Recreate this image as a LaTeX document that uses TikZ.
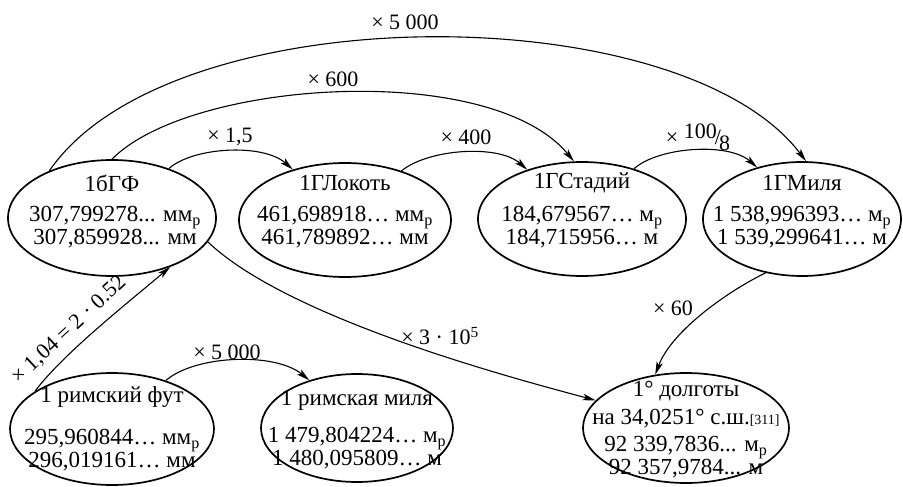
\documentclass[tikz,border=0pt]{standalone}
\usepackage{fontspec}
\setmainfont{Liberation Serif}
\usetikzlibrary{shapes.geometric,arrows.meta}
\begin{document}
\begin{tikzpicture}[x=1pt,y=-1pt,
  ell/.style={draw,ellipse,line width=1.7pt,inner sep=0pt},
  txt/.style={font=\fontsize{23}{23}\selectfont,inner sep=0pt,align=center},
  lbl/.style={font=\fontsize{22}{22}\selectfont,inner sep=0pt},
  arr/.style={line width=1.1pt,-{Stealth[length=13pt,width=6.5pt,inset=3pt]}}]
\useasboundingbox (0,0) rectangle (903,487);
% ellipses
\node[ell,minimum width=208pt,minimum height=116pt] (gf) at (112,218) {};
\node[ell,minimum width=212pt,minimum height=114pt] (lok) at (345,220) {};
\node[ell,minimum width=208pt,minimum height=114pt] (stad) at (582,219) {};
\node[ell,minimum width=198pt,minimum height=114pt] (mil) at (802,219) {};
\node[ell,minimum width=204pt,minimum height=112pt] (rf) at (112,429) {};
\node[ell,minimum width=192pt,minimum height=108pt] (rm) at (357,428) {};
\node[ell,minimum width=206pt,minimum height=110pt] (dol) at (686,428) {};
% texts
\node[txt] (gft) at (112,183) {1бГФ};
\node[txt] (gfn) at (115,227) {307,799278... мм\textsubscript{р}\\307,859928... мм};
\node[txt] (lokt) at (345,183) {1ГЛокоть};
\node[txt] (lokn) at (345,227) {461,698918… мм\textsubscript{р}\\461,789892… мм};
\node[txt] (stadt) at (582,183) {1ГСтадий};
\node[txt] (stadn) at (582,227) {184,679567… м\textsubscript{р}\\184,715956… м};
\node[txt] (milt) at (802,183) {1ГМиля};
\node[txt] (miln) at (802,227) {1 538,996393… м\textsubscript{р}\\1 539,299641… м};
\node[txt] (rft) at (112,397) {1 римский фут};
\node[txt] (rfn) at (112,450) {295,960844… мм\textsubscript{р}\\296,019161… мм};
\node[txt] (rmt) at (357,400) {1 римская миля};
\node[txt] (rmn) at (357,448) {1 479,804224… м\textsubscript{р}\\1 480,095809… м};
\node[txt] (dolt) at (686,391) {1° долготы};
\node[txt] (dolu) at (686,419) {на 34,0251° с.ш.{\fontsize{14}{14}\selectfont[311]}};
\node[txt] (doln) at (686,457) {92 339,7836... м\textsubscript{р}\\92 357,9784... м};
% connectors
\draw[arr] (gf.41) .. controls (193,147) and (263,143) .. (lok.136);
\draw[arr] (lok.41) .. controls (428,149) and (498,144) .. (stad.138);
\draw[arr] (stad.44) .. controls (658,147) and (728,142) .. (mil.131);
\draw[arr] (gf.90) .. controls (190,80) and (490,60) .. (stad.98);
\draw[arr] (gf.143) .. controls (170,-5) and (680,-5) .. (mil.86);
\draw[arr] (gf.-14) .. controls (290,320) and (520,380) .. (dol.163);
\draw[arr] (mil.236) .. controls (730,290) and (672,330) .. (dol.120);
\draw[arr] (rf.154) .. controls (62,355) and (125,305) .. (gf.-40);
\draw[arr] (rf.42) .. controls (195,355) and (275,352) .. (rm.135);
% labels
\node[lbl] (l5000) at (405,22) {× 5 000};
\node[lbl] (l600) at (333,79) {× 600};
\node[lbl] (l15) at (230,137) {× 1,5};
\node[lbl] (l400) at (466,137) {× 400};
\node[lbl] (l1008) at (698,137) {× \raisebox{6pt}{100}\kern-2pt/\kern-2pt\raisebox{-6pt}{8}};
\node[lbl] (l3e5) at (440,336) {× 3 · 10\textsuperscript{5}};
\node[lbl] (l60) at (673,308) {× 60};
\node[lbl] (l5000b) at (227,352) {× 5 000};
\node[lbl,rotate=43] (l104) at (69,330) {× 1,04 = 2 · 0.52};
\end{tikzpicture}
\end{document}
